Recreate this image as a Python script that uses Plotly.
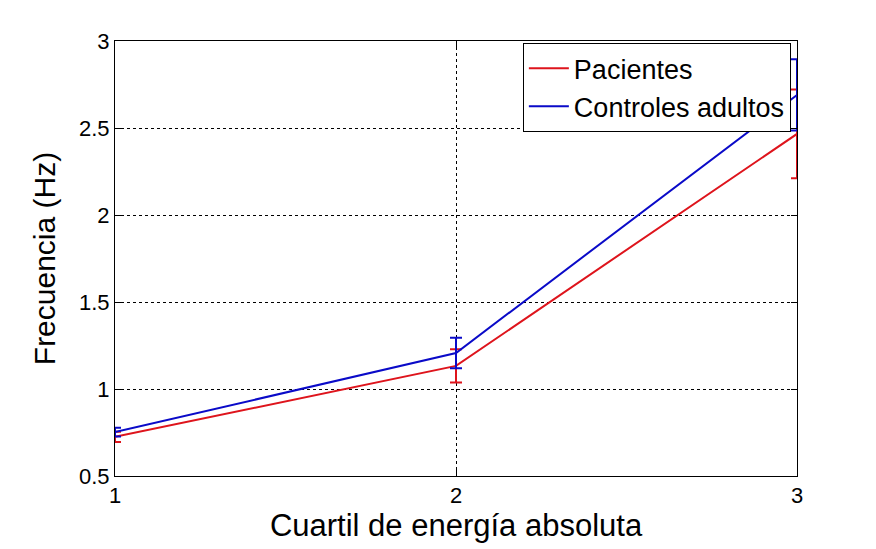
import plotly.graph_objects as go

quartiles = [1, 2, 3]
pacientes = [0.725, 1.133, 2.466]
pacientes_err = [0.03, 0.096, 0.255]
controles = [0.752, 1.207, 2.69]
controles_err = [0.025, 0.088, 0.205]

RED = "rgb(222,20,28)"
BLUE = "rgb(10,10,200)"
FONT = "Liberation Sans, Arial, sans-serif"

fig = go.Figure()
fig.add_trace(go.Scatter(
    x=quartiles, y=pacientes, mode="lines", name="Pacientes",
    line=dict(color=RED, width=2),
    error_y=dict(type="data", array=pacientes_err, color=RED, thickness=2, width=6),
))
fig.add_trace(go.Scatter(
    x=quartiles, y=controles, mode="lines", name="Controles adultos",
    line=dict(color=BLUE, width=2),
    error_y=dict(type="data", array=controles_err, color=BLUE, thickness=2, width=6),
))

axis_common = dict(
    showline=True, linecolor="black", linewidth=1, mirror="ticks",
    ticks="inside", ticklen=6, tickcolor="black",
    showgrid=True, gridcolor="black", gridwidth=1, griddash="dot",
    zeroline=False,
    tickfont=dict(family=FONT, size=22, color="black"),
)

# page body has an 8px margin, so the plot area is offset accordingly
fig.update_layout(
    width=876, height=549,
    margin=dict(l=107, r=87, t=33, b=81),
    paper_bgcolor="white", plot_bgcolor="white",
    font=dict(family=FONT, color="black"),
    xaxis=dict(range=[1, 3], tickvals=[1, 2, 3], ticktext=["1", "2", "3"],
               title=dict(text="Cuartil de energía absoluta", font=dict(size=31), standoff=4),
               **axis_common),
    yaxis=dict(range=[0.5, 3], tickvals=[0.5, 1, 1.5, 2, 2.5, 3],
               ticktext=["0.5", "1", "1.5", "2", "2.5", "3"],
               title=dict(text="Frecuencia (Hz)", font=dict(size=30), standoff=14),
               **axis_common),
    legend=dict(x=0.991, y=0.995, xanchor="right", yanchor="top",
                bordercolor="black", borderwidth=1, bgcolor="white",
                font=dict(family=FONT, size=27, color="black"),
                itemwidth=40, tracegroupgap=0),
    showlegend=True,
)

fig.write_html("out.html")
